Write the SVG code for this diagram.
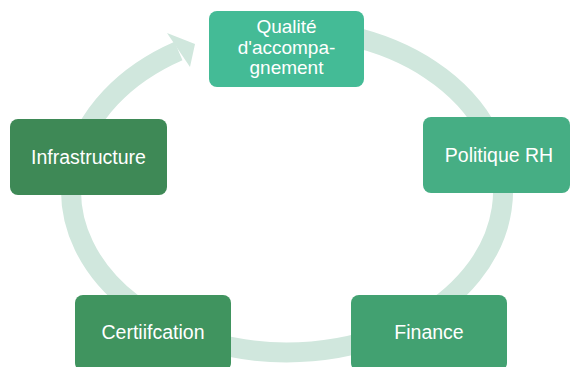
<svg xmlns="http://www.w3.org/2000/svg" width="572" height="367" viewBox="0 0 572 367">
  <style>
    .ring { fill: none; stroke: #D0E7DD; stroke-width: 20; stroke-linecap: butt; }
    .head { fill: #D0E7DD; }
    .box { stroke: none; }
    .lbl { font-family: "Liberation Sans", Arial, sans-serif; font-size: 19.5px; fill: #FFFFFF; text-anchor: middle; }
    .lbl.top { font-size: 19px; }
  </style>
  <rect width="572" height="367" fill="#FFFFFF"/>
  <g id="connectors">
    <path class="ring" d="M350,36.1 A216,161.7 0 1 1 178.5,51.0"/>
    <polygon class="head" points="167,33 195,44 190,67"/>
  </g>
  <g id="node-qualite">
    <rect class="box" x="209" y="11" width="155" height="76" rx="8" fill="#44BB96"/>
    <text class="lbl top" x="286.5" y="33.3">Qualité</text>
    <text class="lbl top" x="286.5" y="53.6">d'accompa-</text>
    <text class="lbl top" x="286.5" y="74">gnement</text>
  </g>
  <g id="node-politique">
    <rect class="box" x="423" y="117" width="147" height="76" rx="8" fill="#46AE84"/>
    <text class="lbl" x="499" y="162.3">Politique RH</text>
  </g>
  <g id="node-finance">
    <rect class="box" x="351" y="295" width="156" height="76" rx="8" fill="#42A171"/>
    <text class="lbl" x="429" y="339.3">Finance</text>
  </g>
  <g id="node-certification">
    <rect class="box" x="75" y="295" width="156" height="76" rx="8" fill="#40945F"/>
    <text class="lbl" x="153" y="339">Certiifcation</text>
  </g>
  <g id="node-infrastructure">
    <rect class="box" x="10" y="119" width="157" height="76" rx="8" fill="#3E8956"/>
    <text class="lbl" x="88.5" y="164">Infrastructure</text>
  </g>
</svg>
